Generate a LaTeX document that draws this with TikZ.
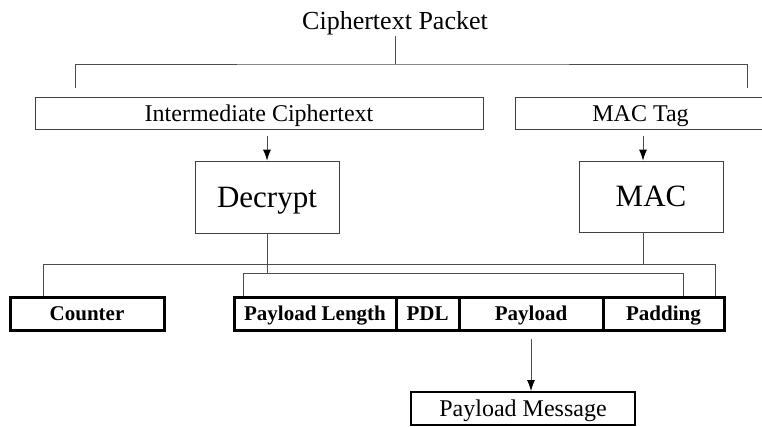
\documentclass[tikz,border=0pt]{standalone}
\usepackage{fontspec}
\setmainfont{Liberation Serif}
\usepackage{tikz}
\usetikzlibrary{arrows.meta}
\tikzset{
  thinbox/.style={draw=black!75, line width=0.8pt, inner sep=0pt, font=\fontsize{24}{28}\selectfont, text height=16pt, text depth=0pt},
  bigbox/.style={thinbox, font=\fontsize{31}{36}\selectfont, text height=20.5pt, minimum width=144pt},
  fieldbox/.style={draw, line width=3pt, inner sep=0pt, minimum height=33pt, font=\fontsize{21}{24}\selectfont\bfseries, text height=14.5pt, text depth=0pt},
  wire/.style={draw=black!70, line width=0.8pt},
  arr/.style={wire, -{Latex[length=11pt,width=8pt,black]}}
}

\begin{document}
\begin{tikzpicture}[x=1pt,y=-1pt]
\useasboundingbox (0,0) rectangle (762,426);
\node[inner sep=1pt, font=\fontsize{26}{30}\selectfont, text height=17pt, text depth=5.5pt] (packet) at (395,23.5) {Ciphertext Packet};
\node[thinbox, minimum width=448pt, minimum height=32pt] (inter) at (259,113) {Intermediate Ciphertext};
\node[thinbox, minimum width=251pt, minimum height=32pt] (mactag) at (640.5,113) {MAC Tag};
\node[bigbox, minimum height=72pt] (decrypt) at (267,197) {Decrypt};
\node[bigbox, minimum height=71pt] (mac) at (651,196.5) {MAC};

\node[fieldbox, minimum width=154pt] (counter) at (87,313.5) {Counter};
\node[fieldbox, minimum width=162pt] (plength) at (315,313.5) {Payload Length};
\node[fieldbox, minimum width=63pt] (pdl) at (427.5,313.5) {PDL};
\node[fieldbox, minimum width=144pt] (payload) at (531,313.5) {Payload};
\node[fieldbox, minimum width=121pt] (padding) at (663.5,313.5) {Padding};
\node[thinbox, draw=black, line width=2pt, minimum width=224pt, minimum height=33pt] (pmsg) at (523,408.5) {Payload Message};

% split of the packet
\coordinate (top) at (395,64);
\coordinate (brL) at (75,88);
\coordinate (brR) at (747,88);
\draw[wire] (packet.south) -- (top);
\draw[wire] (brL) |- (top) -| (brR);

\draw[arr, shorten <=7pt] (decrypt.north |- inter.south) -- (decrypt.north);
\draw[arr, shorten <=7pt] ([xshift=-8pt]mac.north |- mactag.south) -- ([xshift=-8pt]mac.north);

% buses to the fields
\coordinate (outer) at (0,264);
\coordinate (inner) at (0,273);
\draw[wire] ([xshift=-44pt]counter.north) |- ([xshift=51.5pt]padding.north |- outer) -- ([xshift=51.5pt]padding.north);
\draw[wire] ([xshift=-72pt]plength.north) |- ([xshift=19.5pt]padding.north |- inner) -- ([xshift=19.5pt]padding.north);
\draw[wire] (decrypt.south) -- (decrypt.south |- inner);
\draw[wire] ([xshift=-8pt]mac.south) -- ([xshift=-8pt]mac.south |- outer);

\draw[arr, shorten <=7pt] (payload.south) -- (payload.south |- pmsg.north);
\end{tikzpicture}
\end{document}
